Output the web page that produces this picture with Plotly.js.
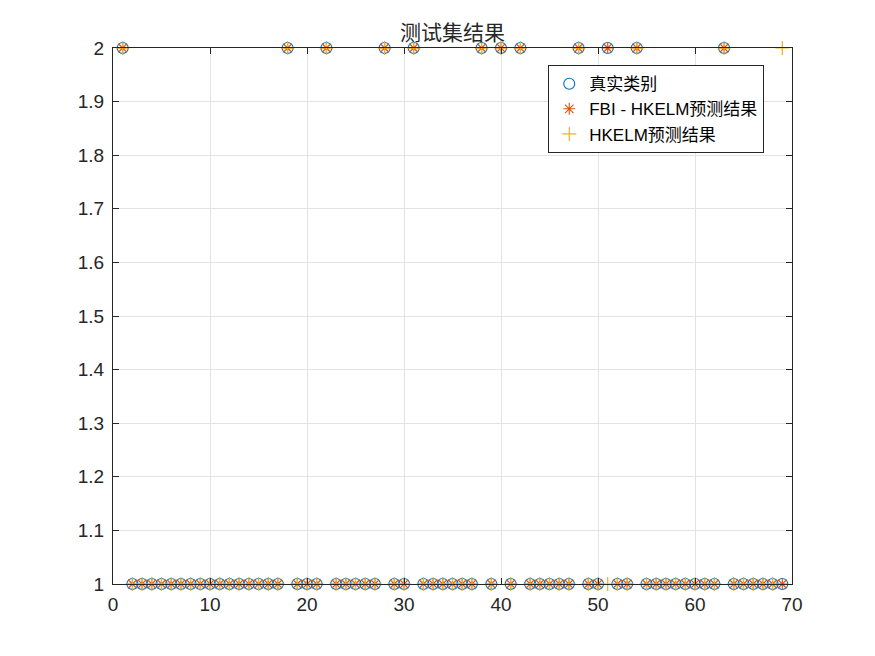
<!DOCTYPE html>
<html>
<head>
<meta charset="utf-8">
<script src="https://cdn.plot.ly/plotly-3.0.1.min.js"></script>
<style>html,body{margin:0;padding:0;background:#fff;}#chart{width:875px;height:656px;}</style>
</head>
<body>
<div id="chart"></div>
<script>
// sample index 1..69
const sampleIndex = [];
for (let i = 1; i <= 69; i++) sampleIndex.push(i);

const trueClass = [2,1,1,1,1,1,1,1,1,1, 1,1,1,1,1,1,1,2,1,1, 1,2,1,1,1,1,1,2,1,1,
                   2,1,1,1,1,1,1,2,1,2, 1,2,1,1,1,1,1,2,1,1, 2,1,1,2,1,1,1,1,1,1,
                   1,1,2,1,1,1,1,1,1];
const fbiHkelmPred = [2,1,1,1,1,1,1,1,1,1, 1,1,1,1,1,1,1,2,1,1, 1,2,1,1,1,1,1,2,1,1,
                   2,1,1,1,1,1,1,2,1,2, 1,2,1,1,1,1,1,2,1,1, 2,1,1,2,1,1,1,1,1,1,
                   1,1,2,1,1,1,1,1,1];
const hkelmPred = [2,1,1,1,1,1,1,1,1,1, 1,1,1,1,1,1,1,2,1,1, 1,2,1,1,1,1,1,2,1,1,
                   2,1,1,1,1,1,1,2,1,2, 1,2,1,1,1,1,1,2,1,1, 1,1,1,2,1,1,1,1,1,1,
                   1,1,2,1,1,1,1,1,2];
const seriesNames = ['真实类别', 'FBI - HKELM预测结果', 'HKELM预测结果'];
const xTicks = [0,10,20,30,40,50,60,70];
const yTicks = [1,1.1,1.2,1.3,1.4,1.5,1.6,1.7,1.8,1.9,2];

const font = 'Helvetica, Arial, "Liberation Sans", "Noto Sans CJK SC", sans-serif';
const traces = [
  {x: sampleIndex, y: trueClass, name: seriesNames[0], mode: 'markers', type: 'scatter', cliponaxis: false,
   marker: {symbol: 'circle-open', size: 11, color: '#0072BD', line: {width: 1.1}}},
  {x: sampleIndex, y: fbiHkelmPred, name: seriesNames[1], mode: 'markers', type: 'scatter', cliponaxis: false,
   marker: {symbol: 'asterisk-open', size: 10, color: '#D95319', line: {width: 1.1, color: '#D95319'}}},
  {x: sampleIndex, y: hkelmPred, name: seriesNames[2], mode: 'markers', type: 'scatter', cliponaxis: false,
   marker: {symbol: 'cross-thin-open', size: 10, color: '#EDB120', line: {width: 1.2, color: '#EDB120'}}}
];

const axisCommon = {
  showline: true, linecolor: '#262626', linewidth: 1, mirror: 'ticks',
  ticks: 'inside', ticklen: 6, tickcolor: '#262626', tickwidth: 1,
  showgrid: true, gridcolor: '#e3e3e3', gridwidth: 1, zeroline: false,
  tickfont: {family: font, size: 19, color: '#262626'}
};

const layout = {
  width: 875, height: 656,
  margin: {l: 113, r: 83, t: 48, b: 72},
  paper_bgcolor: '#fff', plot_bgcolor: '#fff',
  title: {text: '测试集结果', font: {family: '"Noto Sans CJK SC", sans-serif', size: 21, color: '#262626'},
          x: 0.5, xanchor: 'center', xref: 'paper', y: 1, yref: 'paper', yanchor: 'bottom', pad: {b: 8}},
  xaxis: Object.assign({}, axisCommon, {range: [0, 70], tickvals: xTicks, ticktext: xTicks.map(String), ticklabelstandoff: 3}),
  yaxis: Object.assign({}, axisCommon, {range: [1, 2], tickvals: yTicks, ticktext: yTicks.map(String), ticklabelstandoff: 4}),
  showlegend: true,
  legend: {x: 0.641, y: 0.968, xanchor: 'left', yanchor: 'top', bgcolor: '#fff', bordercolor: '#262626', borderwidth: 1,
           font: {family: font, size: 17, color: '#000'}, itemwidth: 30, tracegroupgap: 0}
};

Plotly.newPlot('chart', traces, layout, {displayModeBar: false, staticPlot: true});
</script>
</body>
</html>
